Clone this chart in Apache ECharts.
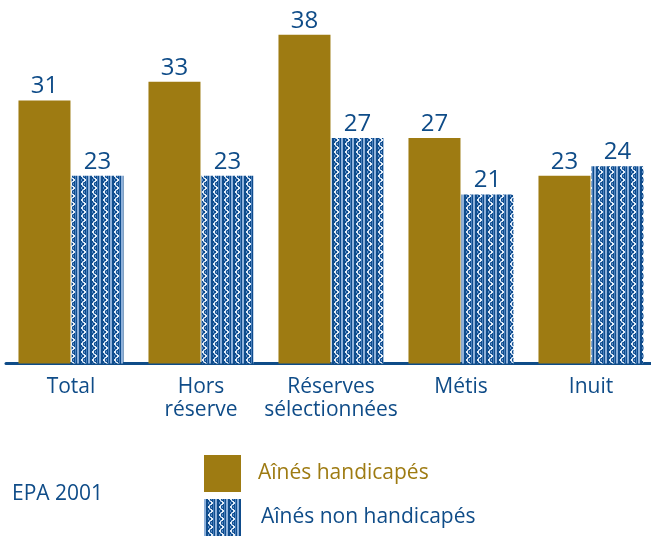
<!DOCTYPE html>
<html>
<head>
<meta charset="utf-8">
<script src="https://cdn.jsdelivr.net/npm/echarts@6/dist/echarts.min.js"></script>
<style>
  html, body { margin: 0; padding: 0; background: #fff; overflow: hidden; }
  #chart { width: 660px; height: 537px; }
</style>
</head>
<body>
<div id="chart"></div>
<script>
// Groups along the x axis
const categories = ['Total', 'Hors\nréserve', 'Réserves\nsélectionnées', 'Métis', 'Inuit'];
// Percentages per group
const handicapes = [31, 33, 38, 27, 23];
const nonHandicapes = [23, 23, 27, 21, 24];
const seriesNames = ['Aînés handicapés', 'Aînés non handicapés'];

const GOLD = '#9e7b12';
const BLUE = '#0f4c88';

// Woven tile: dark stripes, light rails and a stepped zigzag thread
function makeTile() {
  const w = 11, h = 8;
  const c = document.createElement('canvas');
  c.width = w; c.height = h;
  const g = c.getContext('2d');
  g.fillStyle = '#0f4c8c';
  g.fillRect(0, 0, w, h);
  g.fillStyle = '#8fb1da';
  g.fillRect(0, 0, 2, h);
  g.fillStyle = '#4a80bd';
  g.fillRect(9, 0, 1, h);
  const offs = [0, 1, 2, 3, 3, 2, 1, 0];
  for (let y = 0; y < h; y++) {
    g.fillStyle = '#e3ecf6';
    g.fillRect(4 + offs[y], y, 2, 1);
    g.fillStyle = '#5e8fc8';
    g.fillRect(4 + (3 - offs[y]), y, 1, 1);
  }
  return c;
}
const pattern = { image: makeTile(), repeat: 'repeat' };

const chart = echarts.init(document.getElementById('chart'), null, { renderer: 'canvas' });

const labelStyle = {
  show: true,
  position: 'top',
  distance: 2,
  color: BLUE,
  fontFamily: 'Open Sans',
  fontSize: 24
};

const legendBase = {
  orient: 'vertical',
  left: 199,
  itemWidth: 37,
  itemHeight: 37,
  icon: 'rect',
  selectedMode: false,
  textStyle: { fontFamily: 'Open Sans', fontSize: 21 }
};

chart.setOption({
  animation: false,
  textStyle: { fontFamily: 'Open Sans' },
  grid: { left: 6, width: 650, top: 16, bottom: 173.5, containLabel: false },
  xAxis: {
    type: 'category',
    data: categories,
    axisLine: { lineStyle: { color: BLUE, width: 3 } },
    axisTick: { show: false },
    axisLabel: {
      color: BLUE,
      fontFamily: 'Open Sans',
      fontSize: 21,
      lineHeight: 23,
      margin: 12,
      interval: 0
    }
  },
  yAxis: {
    type: 'value',
    min: 3,
    max: 40,
    show: false,
    splitLine: { show: false }
  },
  legend: [
    Object.assign({}, legendBase, {
      top: 450,
      data: [{ name: seriesNames[0], textStyle: { color: GOLD, padding: [0, 0, 0, 12] } }]
    }),
    Object.assign({}, legendBase, {
      top: 494,
      data: [{ name: seriesNames[1], textStyle: { color: BLUE, padding: [0, 0, 0, 15] } }]
    })
  ],
  graphic: [{
    type: 'text',
    left: 12,
    top: 484,
    style: { text: 'EPA 2001', fill: BLUE, font: '21px "Open Sans"' }
  }],
  series: [
    {
      name: seriesNames[0],
      type: 'bar',
      data: handicapes,
      barWidth: 52,
      barGap: '2%',
      itemStyle: { color: GOLD },
      label: labelStyle
    },
    {
      name: seriesNames[1],
      type: 'bar',
      data: nonHandicapes,
      barWidth: 52,
      itemStyle: { color: pattern },
      label: labelStyle
    }
  ]
});
</script>
</body>
</html>
